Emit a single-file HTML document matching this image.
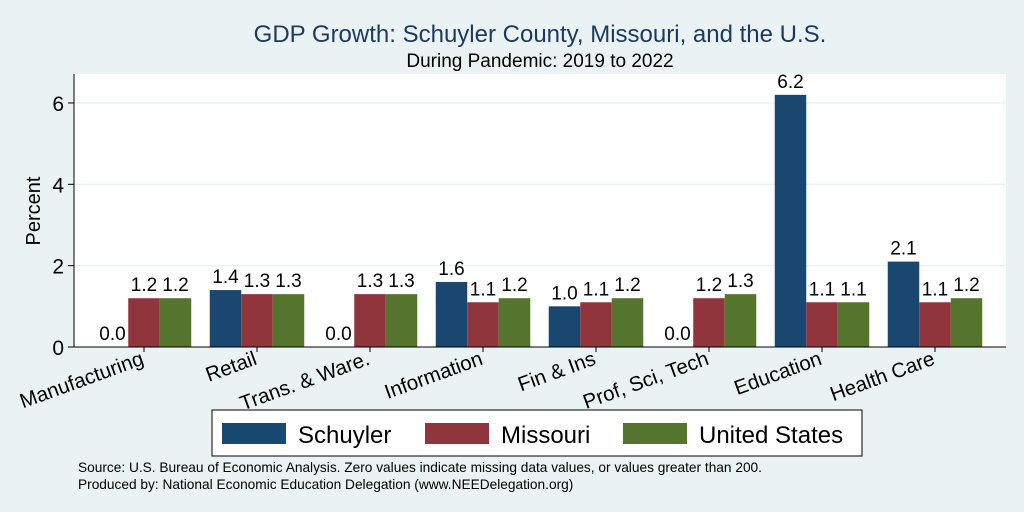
<!DOCTYPE html>
<html><head><meta charset="utf-8"><style>
body{margin:0;background:#eaf2f3;}
svg{display:block;font-family:"Liberation Sans",sans-serif;}
</style></head><body>
<svg id="c" width="1024" height="512" viewBox="0 0 1024 512">
<rect x="0" y="0" width="1024" height="512" fill="#eaf2f3"/>
<text x="540" y="42" font-size="24" fill="#1a3a5f" text-anchor="middle">GDP Growth: Schuyler County, Missouri, and the U.S.</text>
<text x="540" y="67" font-size="19" fill="#000" text-anchor="middle">During Pandemic: 2019 to 2022</text>
<rect x="74" y="74" width="932" height="273" fill="#fff"/>
<g id="grid"></g>
<g id="bars"></g>
<line x1="74" y1="74" x2="74" y2="347" stroke="#000" stroke-width="1"/>
<line x1="74" y1="347" x2="1006" y2="347" stroke="#000" stroke-width="1"/>
<text transform="translate(40,211) rotate(-90)" font-size="20" text-anchor="middle">Percent</text>
<rect x="212" y="410" width="650" height="46" fill="#fff" stroke="#000" stroke-width="1"/>
<g><rect x="222" y="423" width="64" height="21" fill="#1a476f"/><text x="298" y="443" font-size="24">Schuyler</text></g>
<g><rect x="425" y="423" width="64" height="21" fill="#90353b"/><text x="501" y="443" font-size="24">Missouri</text></g>
<g><rect x="623" y="423" width="64" height="21" fill="#55752f"/><text x="699" y="443" font-size="24">United States</text></g>
<text x="78" y="472" font-size="13.7">Source: U.S. Bureau of Economic Analysis. Zero values indicate missing data values, or values greater than 200.</text>
<text x="78" y="489" font-size="13.7">Produced by: National Economic Education Delegation (www.NEEDelegation.org)</text>
</svg>
<script>
const categories=["Manufacturing","Retail","Trans. & Ware.","Information","Fin & Ins","Prof, Sci, Tech","Education","Health Care"];
const schuyler=[0.0,1.4,0.0,1.6,1.0,0.0,6.2,2.1];
const missouri=[1.2,1.3,1.3,1.1,1.1,1.2,1.1,1.1];
const unitedStates=[1.2,1.3,1.3,1.2,1.2,1.3,1.1,1.2];
const yTicks=[0,2,4,6];
const NS="http://www.w3.org/2000/svg";
function y(v){return 347-v*40.67;}
function gx(i){return 144+i*113;}
const bw=31.5;
const grid=document.getElementById('grid'),bars=document.getElementById('bars');
function mk(tag,attrs,parent,txt){const e=document.createElementNS(NS,tag);for(const k in attrs)e.setAttribute(k,attrs[k]);if(txt!==undefined)e.textContent=txt;parent.appendChild(e);return e;}
yTicks.forEach(t=>{
 if(t>0){const g=mk('line',{x1:74,x2:1006,y1:y(t),y2:y(t),stroke:'#eaf2f3','stroke-width':1.5},grid);
 
 }
 const tk=mk('line',{x1:68,x2:74,y1:y(t),y2:y(t),stroke:'#000'},grid);
 
 
 const l=mk('text',{x:64,y:y(t)+8,'font-size':21,'text-anchor':'end'},grid,String(t));
 
 
});
const series=[[schuyler,'#1a476f','schuyler'],[missouri,'#90353b','missouri'],[unitedStates,'#55752f','us']];
categories.forEach((c,i)=>{
 series.forEach((s,j)=>{
  const v=s[0][i];const x0=gx(i)+(j-1.5)*bw;
  const r=mk('rect',{x:x0,y:y(v),width:bw,height:347-y(v),fill:s[1]},bars);
  
  
  const t=mk('text',{x:x0+bw/2,y:y(v)-7,'font-size':19,'text-anchor':'middle'},bars,v.toFixed(1));
  
  
 });
 const tk=mk('line',{x1:gx(i),x2:gx(i),y1:347,y2:352,stroke:'#000'},bars);
 
 
 const l=mk('text',{transform:'translate('+(gx(i)+1)+',364) rotate(-20)','font-size':20.5,'text-anchor':'end'},bars,c);
 
 
});
</script>
</body></html>
